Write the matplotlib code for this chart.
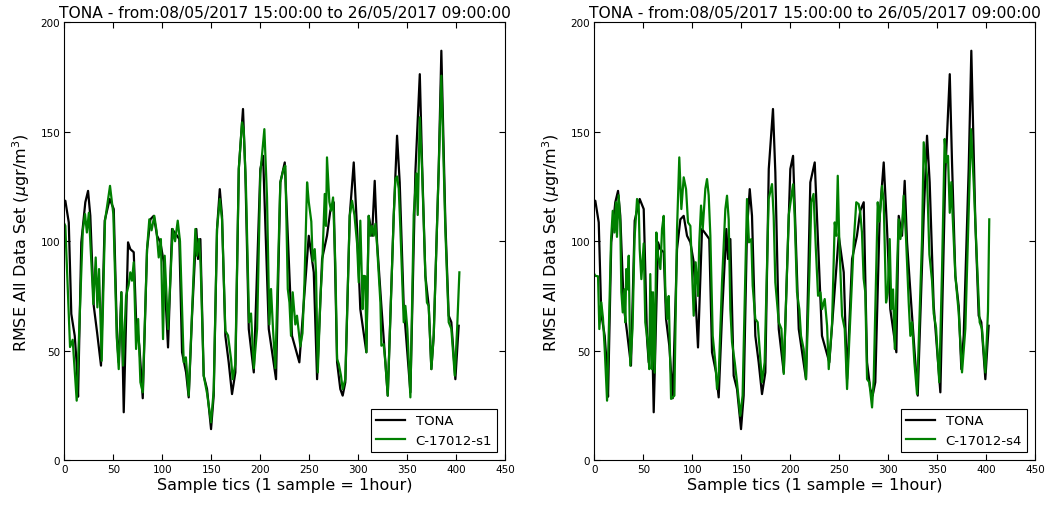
import matplotlib
matplotlib.use('Agg')
import matplotlib.pyplot as plt

# TONA reference station (same series in both panels)
tona_x = [0, 1, 4.5, 7.1, 10.6, 12.5, 14, 17.3, 21.4, 24.2,
          26.5, 30, 33.4, 37.4, 41.2, 46.3, 50.4, 53.8, 55.5, 58.2,
          60.6, 65, 67.3, 70.8, 73.2, 76.5, 80, 84.4, 87.8, 91.2,
          94.6, 98, 101.4, 105.8, 109.9, 115, 117.3, 120.1, 124.2, 126.9,
          130.3, 134.7, 136.4, 138.8, 142.2, 145.6, 149.7, 152.4, 155.8, 158.6,
          160.9, 164.3, 167.7, 171.1, 174.5, 178, 182.3, 184.7, 188.2, 193.3,
          200, 202.8, 208.6, 216, 220.4, 224.9, 229, 232.3, 239.8, 249.4,
          254.5, 257.9, 263, 268, 271.4, 274.9, 278.3, 281.6, 284, 286.7,
          291.2, 295.3, 298.7, 302, 308.2, 310.6, 314, 316.7, 319.1, 323.5,
          330, 336.1, 339.5, 342.2, 346.3, 353.1, 358.2, 362.7, 365, 368.4,
          371.8, 374.5, 376.9, 382, 384.7, 388.8, 392.2, 394.9, 399, 402.4]
tona_y = [118, 118.5, 108.6, 66.8, 56.8, 44.7, 29, 99.5, 117.8, 123,
          111.6, 70.5, 58.4, 43.2, 109.4, 119.3, 114.7, 55.3, 44.7, 76.7,
          21.9, 99.5, 96.4, 95, 64.5, 52.3, 28.3, 96.4, 110, 111.6,
          102.5, 99.5, 90.5, 51.5, 105.6, 102.5, 101, 49.3, 40.1, 28.7,
          66, 105.6, 91.9, 101, 38.6, 32.5, 14.2, 29.5, 105.6, 123.8,
          111.6, 56.8, 44.7, 30.2, 40.1, 133, 160.4, 131.5, 59.9, 40.1,
          133, 139, 59.9, 37, 126.9, 136, 91.9, 56.8, 44.7, 102.5,
          85.8, 37, 91.9, 102.5, 114, 117.8, 44.7, 32.5, 29.5, 35.6,
          111.6, 136, 105.6, 69, 49.3, 111.6, 102.5, 127.6, 99.5, 70.5,
          29.5, 111.6, 148.2, 126.9, 70.5, 31, 131.5, 176.3, 136, 84.2,
          70.5, 41.6, 56.8, 133, 187, 108.6, 66, 63, 37, 61.4]

# sensor C-17012-s1
s1_x = [0, 1, 5.8, 8.5, 12.6, 18.8, 21.1, 23, 25, 28,
        29.6, 32, 33.7, 35.4, 38.1, 41.5, 46.6, 50, 53.5, 55.5,
        58.2, 59.9, 63, 65.6, 67.3, 69, 70.8, 73.2, 75.3, 77.6,
        80, 84.4, 86.7, 89, 91.8, 94, 96.3, 98.5, 100.7, 102.4,
        105.8, 110.6, 113, 115.7, 118, 121.8, 124, 126.9, 130.3, 133.7,
        135.4, 137.4, 139, 142.2, 145.6, 149.7, 152.4, 155.8, 158.6, 160.9,
        164.3, 167, 170.1, 171.8, 174.5, 178, 181.3, 183, 185.3, 188.5,
        190.5, 193.3, 196.7, 200, 204.1, 206.8, 209.2, 210.9, 212.9, 215.3,
        220.4, 223.7, 225.5, 228, 229.7, 231.3, 233, 235.7, 237.4, 240.8,
        243, 245, 247.7, 249.4, 252, 253.4, 255.5, 256.8, 258.6, 261.4,
        263, 265.7, 267, 268, 270.4, 272.2, 274.2, 276.5, 278.3, 280,
        282.3, 284, 286.7, 291.2, 293.6, 296, 298.7, 300.4, 302, 304.4,
        305.5, 307.2, 308.2, 310.6, 312.3, 314, 315.7, 317.4, 319.1, 322.5,
        323.5, 325.8, 327.5, 330, 336.1, 337.8, 339.5, 341.2, 342.9, 346.3,
        348, 350, 353.1, 356.5, 359.2, 360.6, 362.7, 365, 368.4, 370,
        371.8, 374.5, 376.9, 382, 384.7, 388.8, 392.2, 394.9, 398.4, 400.8,
        403.1]
s1_y = [108, 107, 51.7, 55, 27.2, 104.8, 112.4, 104, 113, 86.5,
        71.3, 92.6, 69.8, 87.3, 45.4, 109.4, 125.3, 112.4, 56, 41.6,
        76.7, 43.2, 75, 80, 85.8, 82, 90.4, 50.8, 64.5, 35.6,
        31, 96.4, 110, 105, 111.6, 105, 92.6, 101, 55.3, 93.4,
        59.9, 105.6, 100, 109.4, 100, 44.7, 47, 29.5, 67.5, 105.6,
        93.4, 101, 90, 38.6, 30.6, 17.3, 32, 105.6, 119.3, 110,
        59, 57, 46.2, 37, 44, 133, 154.3, 151, 125, 63,
        67, 42, 60, 131, 151.2, 120, 62, 78.2, 60, 42,
        126.9, 133, 134.5, 78.2, 72, 56.8, 76.7, 62, 66, 52,
        58, 81, 126.9, 118, 109, 91, 96.4, 85.8, 40.1, 75,
        87.3, 121.6, 107, 138.3, 118, 114, 120, 90, 46.2, 44,
        38.6, 32.5, 37, 111.6, 118.5, 112, 99, 81.2, 109.4, 69,
        84.2, 84, 49.3, 111.6, 102.5, 107, 102.5, 108, 98, 72,
        52.3, 53, 45, 29.5, 111.6, 128.4, 129.6, 124, 105.6, 63,
        70.5, 60, 28.7, 112, 131, 112, 156.6, 133, 84.2, 72,
        70.5, 41.6, 56.8, 133, 175.6, 105, 63, 60, 38.6, 60,
        85.8]

# sensor C-17012-s4
s4_x = [0, 1, 3.8, 5.1, 7.1, 8.8, 10.6, 13, 17.1, 18.8,
        20.5, 22.1, 23.1, 24.8, 26.5, 27.6, 29, 30.7, 31.6, 32.6,
        34, 35.1, 36.7, 39, 41, 43.6, 45.3, 46.3, 48, 50.4,
        52, 54.4, 56.1, 57.1, 58.8, 59.9, 61.6, 63.3, 65, 67.4,
        69.1, 70.8, 72.5, 74.2, 75.9, 78.3, 81.7, 84.4, 86.7, 88.8,
        91.2, 93.6, 95.6, 98, 101.4, 103.4, 105.8, 107.1, 108.9, 110.6,
        113.3, 115, 116.7, 118.4, 120.8, 123.5, 125.2, 126.9, 130.3, 133.7,
        135.4, 137.1, 138.8, 140.5, 143.3, 145.6, 148.9, 151.3, 155.8, 157.8,
        160.2, 161.6, 164.3, 166.7, 169.4, 171.1, 173.8, 177.9, 181.3, 183,
        184.7, 188.2, 190.9, 193.3, 198.4, 200.7, 202.8, 204.4, 206.8, 209.2,
        210.9, 213.6, 216, 219.4, 221.4, 223.7, 226, 228.3, 230.7, 232.4,
        235.1, 237.5, 239.2, 242.6, 245.3, 247, 248.4, 250, 252.8, 255.5,
        257.9, 261.3, 264.7, 267.3, 269.7, 271.4, 273.1, 274.8, 276.5, 278.3,
        280.6, 283.4, 285.1, 289.2, 290.9, 293.6, 295.3, 297.7, 299.4, 301.4,
        303.1, 304.8, 306.6, 308.9, 310.6, 312.3, 314, 315.7, 318.1, 320.8,
        322.5, 324.2, 326.6, 329.3, 334.4, 336.1, 339.5, 341.9, 344.6, 346.3,
        348.7, 352, 354.8, 357.5, 359.2, 360.9, 362.7, 364.3, 365.5, 368.4,
        371.8, 375.2, 378.6, 384.4, 387.1, 390.5, 393.2, 395.6, 399, 401.7,
        403]
s4_y = [85, 84.2, 84, 59.9, 72.1, 65, 50.8, 27.2, 101, 113.9,
        104, 117.8, 102, 121, 108, 76.7, 67.5, 78, 63, 87.3,
        78, 93.4, 43.2, 60, 101, 119.3, 116, 96.4, 82.7, 99,
        63, 54, 41.6, 85, 41.6, 76.7, 40, 104, 93.4, 87.3,
        105.6, 111.6, 76.7, 64.5, 75, 28, 29.5, 105.6, 138.3, 114.7,
        129.2, 123.8, 108.6, 107, 66, 90.4, 75, 99.5, 116.3, 105.6,
        124, 128.4, 121, 102.5, 56.8, 44.7, 32.5, 38.6, 81.2, 114.7,
        120.8, 110, 69, 54, 44.7, 35.6, 20.3, 29.5, 119.3, 99.5,
        101, 79.7, 64.5, 63, 46.2, 35.6, 44.7, 119.3, 126.1, 111.6,
        81.2, 63, 60, 39.4, 112, 119.3, 126, 112, 76.7, 69,
        56.8, 50.8, 37, 84.2, 117.8, 121.6, 97, 75.1, 76.7, 69,
        73.6, 61.4, 41.6, 62.5, 108.6, 102.5, 129.9, 99.5, 66, 60,
        32.5, 66, 99.5, 117.8, 117, 113, 104, 83, 76.7, 37,
        35.6, 24.1, 37, 117.8, 109, 125.3, 118, 72, 76.7, 101,
        69, 78, 50.8, 88, 110, 101, 106, 120.8, 101, 72,
        56.8, 63, 44.7, 30.2, 101, 145.2, 129.6, 94, 82, 67,
        60.5, 35.6, 87, 146.7, 136, 139, 113, 127, 113, 84.2,
        67.5, 40.1, 60, 151.2, 126.9, 90.4, 63, 60, 40.1, 68,
        110]

title = 'TONA - from:08/05/2017 15:00:00 to 26/05/2017 09:00:00'
sensors = [('C-17012-s1', s1_x, s1_y), ('C-17012-s4', s4_x, s4_y)]

plt.rcParams['xtick.direction'] = 'in'
plt.rcParams['ytick.direction'] = 'in'
plt.rcParams['xtick.top'] = True
plt.rcParams['ytick.right'] = True
plt.rcParams['xtick.major.size'] = 4
plt.rcParams['ytick.major.size'] = 4

fig = plt.figure(figsize=(10.48, 5.06), dpi=100)
positions = [[0.0614, 0.0885, 0.4208, 0.8655], [0.5671, 0.0885, 0.4208, 0.8655]]

for pos, (name, sx, sy) in zip(positions, sensors):
    ax = fig.add_axes(pos)
    ax.plot(tona_x, tona_y, color='k', lw=1.6, label='TONA')
    ax.plot(sx, sy, color='g', lw=1.6, label=name)
    ax.set_xlim(0, 450)
    ax.set_ylim(0, 200)
    ax.set_xticks(range(0, 451, 50))
    ax.set_yticks(range(0, 201, 50))
    ax.tick_params(labelsize=7.5, pad=3)
    ax.set_title(title, fontsize=11.2, pad=4)
    ax.set_xlabel('Sample tics (1 sample = 1hour)', fontsize=11.5, labelpad=2)
    ax.set_ylabel(r'RMSE All Data Set ($\mu$gr/m$^3$)', fontsize=11.5, labelpad=6)
    leg = ax.legend(loc='lower right', fontsize=9.5, fancybox=False, framealpha=1,
                    edgecolor='k', handlelength=2.2, borderaxespad=0.6)
    leg.get_frame().set_linewidth(0.8)

fig.savefig('out.png', dpi=100, facecolor='white')
